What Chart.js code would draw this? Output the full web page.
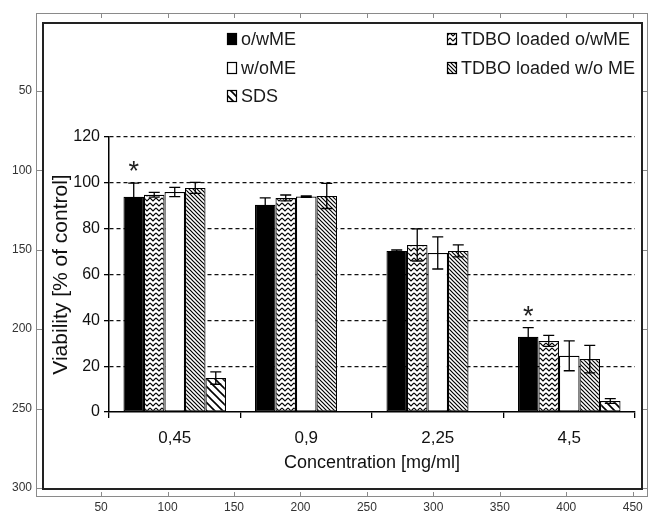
<!DOCTYPE html>
<html>
<head>
<meta charset="utf-8">
<script src="https://cdn.jsdelivr.net/npm/chart.js@4.4.1/dist/chart.umd.min.js"></script>
<style>
  html, body { margin: 0; padding: 0; background: #fff; }
  #wrap { position: relative; width: 648px; height: 513px; }
  #frameChart { position: absolute; left: 0; top: 0; }
  #barChart { position: absolute; left: 42px; top: 22px; }
</style>
</head>
<body>
<div id="wrap">
  <canvas id="frameChart" width="648" height="513"></canvas>
  <canvas id="barChart" width="601" height="468"></canvas>
</div>
<script>
// Chart data
const categories = ['0,45', '0,9', '2,25', '4,5'];
const owME = [93.9, 90.4, 70.3, 32.8];
const owMEErr = [6, 3, 0.4, 4];
const tdboOwME = [94.8, 93.4, 72.9, 31.0];
const tdboOwMEErr = [1, 1.3, 7, 2.4];
const woME = [96, 94, 69.4, 24.5];
const woMEErr = [2, 0.3, 7, 6.5];
const tdboWoME = [97.8, 94.3, 70.3, 23.1];
const tdboWoMEErr = [2.4, 5.5, 2.6, 6];
const sds = [14.8, null, null, 4.8];
const sdsErr = [2.7, null, null, 1];
const owMEStars = ['*', '', '', '*'];
const yTicks = [0, 20, 40, 60, 80, 100, 120];

// ticks of the outer image frame
const frameXTicks = [50, 100, 150, 200, 250, 300, 350, 400, 450];
const frameYTicks = [50, 100, 150, 200, 250, 300];

const SANS = "'Liberation Sans', Arial, sans-serif";

// Fill patterns
function makePattern(w, h, draw) {
    const c = document.createElement('canvas');
    c.width = w;
    c.height = h;
    const g = c.getContext('2d');
    g.fillStyle = '#fff';
    g.fillRect(0, 0, w, h);
    g.strokeStyle = '#000';
    draw(g);
    return document.getElementById('barChart').getContext('2d').createPattern(c, 'repeat');
}

const zigzag = makePattern(6, 5, g => {
    g.lineWidth = 1.1;
    g.beginPath();
    g.moveTo(0, 1);
    g.lineTo(3, 4);
    g.lineTo(6, 1);
    g.stroke();
});
const hatchDense = makePattern(4, 4, g => {
    g.lineWidth = 1.2;
    g.beginPath();
    g.moveTo(-1, -1); g.lineTo(5, 5);
    g.moveTo(-1, 3); g.lineTo(1, 5);
    g.moveTo(3, -1); g.lineTo(5, 1);
    g.stroke();
});
const hatchWide = makePattern(8, 8, g => {
    g.lineWidth = 1.6;
    g.beginPath();
    g.moveTo(-1, -1); g.lineTo(9, 9);
    g.moveTo(-1, 7); g.lineTo(1, 9);
    g.moveTo(7, -1); g.lineTo(9, 1);
    g.stroke();
});

const datasets = [
    { label: 'o/wME', data: owME, err: owMEErr, stars: owMEStars, backgroundColor: '#000' },
    { label: 'TDBO loaded o/wME', data: tdboOwME, err: tdboOwMEErr, backgroundColor: zigzag },
    { label: 'w/oME', data: woME, err: woMEErr, backgroundColor: '#fff' },
    { label: 'TDBO loaded w/o ME', data: tdboWoME, err: tdboWoMEErr, backgroundColor: hatchDense },
    { label: 'SDS', data: sds, err: sdsErr, backgroundColor: hatchWide },
].map(d => ({ ...d, borderColor: '#000', borderWidth: 1.2, borderSkipped: false }));

// legend slot for each dataset (two columns)
const legendSlots = [[185, 17], [405, 17], [185, 46], [405, 46], [185, 74]];

// Error bars, significance stars, legend and dark frame
const barExtras = {
    id: 'barExtras',
    afterDatasetsDraw(chart) {
        const ctx = chart.ctx;
        const y = chart.scales.y;
        ctx.save();
        ctx.strokeStyle = '#000';
        ctx.lineWidth = 1.3;
        chart.data.datasets.forEach((ds, i) => {
            const meta = chart.getDatasetMeta(i);
            ds.data.forEach((v, j) => {
                if (v === null) return;
                const bar = meta.data[j];
                const e = ds.err[j];
                const top = y.getPixelForValue(v + e);
                const bot = y.getPixelForValue(v - e);
                ctx.beginPath();
                ctx.moveTo(bar.x, top); ctx.lineTo(bar.x, bot);
                ctx.moveTo(bar.x - 5.5, top); ctx.lineTo(bar.x + 5.5, top);
                ctx.moveTo(bar.x - 5.5, bot); ctx.lineTo(bar.x + 5.5, bot);
                ctx.stroke();
                if (ds.stars && ds.stars[j]) {
                    ctx.fillStyle = '#222';
                    ctx.font = '27px ' + SANS;
                    ctx.textAlign = 'center';
                    ctx.textBaseline = 'alphabetic';
                    ctx.fillText(ds.stars[j], bar.x, top - 3);
                }
            });
        });
        ctx.restore();
    },
    afterDraw(chart) {
        const ctx = chart.ctx;
        ctx.save();
        // legend
        ctx.font = '18px ' + SANS;
        ctx.textAlign = 'left';
        ctx.textBaseline = 'middle';
        chart.data.datasets.forEach((ds, i) => {
            const [lx, ly] = legendSlots[i];
            ctx.fillStyle = ds.backgroundColor;
            ctx.fillRect(lx, ly - 6, 10, 12);
            ctx.strokeStyle = '#000';
            ctx.lineWidth = 1.2;
            ctx.strokeRect(lx + 0.5, ly - 5.5, 9, 11);
            ctx.fillStyle = '#1a1a1a';
            ctx.fillText(ds.label, lx + 14, ly + 1);
        });
        // dark frame round the figure
        ctx.strokeStyle = '#222';
        ctx.lineWidth = 2;
        ctx.strokeRect(1, 1, chart.width - 2, chart.height - 2);
        ctx.restore();
    }
};

// Inward ticks and box of the outer frame
const frameBox = {
    id: 'frameBox',
    afterDraw(chart) {
        const ctx = chart.ctx;
        const a = chart.chartArea;
        const sx = chart.scales.x;
        const sy = chart.scales.y;
        ctx.save();
        ctx.strokeStyle = '#8a8a8a';
        ctx.lineWidth = 1;
        ctx.strokeRect(a.left + 0.5, a.top + 0.5, a.right - a.left - 1, a.bottom - a.top - 1);
        ctx.beginPath();
        frameXTicks.forEach(v => {
            const px = Math.round(sx.getPixelForValue(v)) + 0.5;
            ctx.moveTo(px, a.bottom); ctx.lineTo(px, a.bottom - 5);
            ctx.moveTo(px, a.top); ctx.lineTo(px, a.top + 5);
        });
        frameYTicks.forEach(v => {
            const py = Math.round(sy.getPixelForValue(v)) + 0.5;
            ctx.moveTo(a.left, py); ctx.lineTo(a.left + 6, py);
            ctx.moveTo(a.right, py); ctx.lineTo(a.right - 6, py);
        });
        ctx.stroke();
        ctx.restore();
    }
};

new Chart(document.getElementById('frameChart'), {
    type: 'scatter',
    data: { datasets: [] },
    options: {
        responsive: false,
        animation: false,
        devicePixelRatio: 1,
        layout: { padding: { top: 13, right: 0, left: 0, bottom: 0 } },
        plugins: { legend: { display: false }, tooltip: { enabled: false } },
        scales: {
            x: {
                type: 'linear',
                min: 1,
                max: 461.5,
                afterBuildTicks: s => { s.ticks = frameXTicks.map(v => ({ value: v })); },
                grid: { display: false, drawTicks: false },
                border: { display: false },
                ticks: { color: '#333', autoSkip: false, maxRotation: 0, font: { family: SANS, size: 12 }, padding: 3 },
                afterFit: s => { s.height = 16; }
            },
            y: {
                type: 'linear',
                reverse: true,
                min: 0.9,
                max: 305.7,
                afterBuildTicks: s => { s.ticks = frameYTicks.map(v => ({ value: v })); },
                grid: { display: false, drawTicks: false },
                border: { display: false },
                ticks: { color: '#333', autoSkip: false, font: { family: SANS, size: 12 }, padding: 4 },
                afterFit: s => { s.width = 36; }
            }
        }
    },
    plugins: [frameBox]
});

new Chart(document.getElementById('barChart'), {
    type: 'bar',
    data: { labels: categories, datasets },
    options: {
        responsive: false,
        animation: false,
        devicePixelRatio: 1,
        layout: { padding: { top: 115, right: 8, left: 0, bottom: 0 } },
        datasets: { bar: { categoryPercentage: 0.78, barPercentage: 1.0 } },
        plugins: { legend: { display: false }, tooltip: { enabled: false } },
        scales: {
            x: {
                offset: true,
                grid: { display: true, drawOnChartArea: false, drawTicks: true, tickLength: 6, offset: true, color: '#000', lineWidth: 1.3 },
                border: { display: true, color: '#000', width: 1.5 },
                ticks: { color: '#111', maxRotation: 0, font: { family: SANS, size: 17 }, padding: 10 },
                title: { display: true, text: 'Concentration [mg/ml]', color: '#111', font: { family: SANS, size: 18 }, padding: { top: 16, bottom: 16 } },
                afterFit: s => { s.height = 78; }
            },
            y: {
                min: 0,
                max: 120,
                afterBuildTicks: s => { s.ticks = yTicks.map(v => ({ value: v })); },
                grid: {
                    color: c => (c.tick && c.tick.value === 0) ? 'rgba(0,0,0,0)' : '#111',
                    tickColor: '#000',
                    lineWidth: 1.3,
                    drawTicks: true,
                    tickLength: 5
                },
                border: { display: true, color: '#000', width: 1.5, dash: [4, 3] },
                ticks: { color: '#111', font: { family: SANS, size: 16 }, padding: 4 },
                title: { display: true, text: 'Viability [% of control]', color: '#111', font: { family: SANS, size: 21 }, padding: { top: 7, bottom: 7 } },
                afterFit: s => { s.width = 67; }
            }
        }
    },
    plugins: [barExtras]
});
</script>
</body>
</html>
